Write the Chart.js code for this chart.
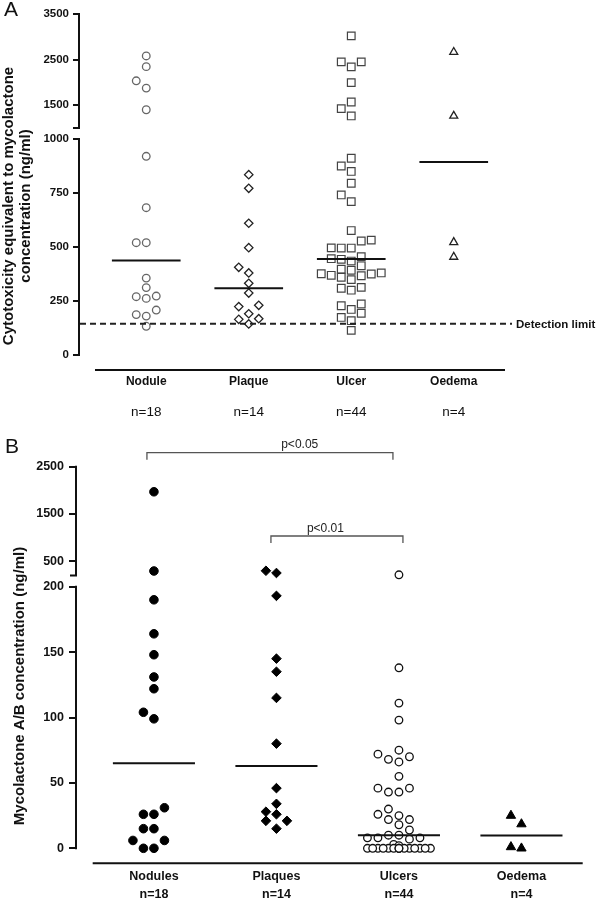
<!DOCTYPE html>
<html>
<head>
<meta charset="utf-8">
<script src="https://cdn.jsdelivr.net/npm/chart.js@4.4.1/dist/chart.umd.min.js"></script>
<style>
  body { margin: 0; background: #fff; }
  canvas { position: absolute; left: 0; }
  #chartA { top: 0; }
  #chartB { top: 425px; }
</style>
</head>
<body>
<canvas id="chartA" width="600" height="425"></canvas>
<canvas id="chartB" width="600" height="473"></canvas>
<script>
// ---- panel A: cytotoxicity equivalent to mycolactone (ng/ml)
const groupsA = ['Nodule', 'Plaque', 'Ulcer', 'Oedema'];
const countsA = ['n=18', 'n=14', 'n=44', 'n=4'];
const noduleA = [2580, 2345, 2035, 1875, 1400, 920, 682, 520, 520, 356, 312, 273, 270, 262, 208, 187, 180, 133];
const plaqueA = [835, 772, 610, 497, 406, 380, 332, 287, 230, 224, 191, 168, 165, 144];
const ulcerA = [3020, 2450, 2450, 2340, 1995, 1570, 1425, 1265, 911, 875, 850, 795, 741, 710,
  576, 532, 528, 496, 495, 495, 455, 446, 443, 435, 413, 397, 392, 380, 376, 375, 369, 367, 360, 349,
  313, 309, 300, 236, 228, 211, 193, 174, 159, 114];
const oedemaA = [2665, 1265, 522, 454];
const ticksA = [0, 250, 500, 750, 1000, 1500, 2500, 3500];
const detectionLimit = 145;

// ---- panel B: mycolactone A/B concentration (ng/ml)
const groupsB = ['Nodules', 'Plaques', 'Ulcers', 'Oedema'];
const countsB = ['n=18', 'n=14', 'n=44', 'n=4'];
const nodulesB = [1970, 295, 190, 164, 148, 131, 122, 104, 99, 31, 26, 26, 15, 15, 6, 6, 0, 0];
const plaquesB = [300, 253, 193, 145, 135, 115, 80, 46, 34, 28, 26, 21, 21, 15];
const ulcersB = [215, 138, 111, 98, 75, 72, 70, 68, 66, 55, 46, 46, 43, 43, 30, 26, 25, 22, 22, 18,
  14, 10, 10, 8, 8, 8, 7, 3, 2, 0, 0, 0, 0, 0, 0, 0, 0, 0, 0, 0, 0, 0, 0, 0];
const oedemaB = [25, 18.5, 1, 0];
const ticksB = [0, 50, 100, 150, 200, 500, 1500, 2500];
const comparisonsB = [
  { from: 0, to: 2, label: 'p<0.05' },
  { from: 1, to: 2, label: 'p<0.01' }
];

const FONT = '"Liberation Sans", Arial, Helvetica, sans-serif';
Chart.defaults.font.family = FONT;
Chart.defaults.color = '#111';

// linear scale split into pieces, each piece owning a slice of the axis height
const LinearScale = Chart.LinearScale || Chart.registry.getScale('linear');
class BrokenScale extends LinearScale {
  buildTicks() {
    return this.options.breakTicks.map((v) => ({ value: v }));
  }
  getPixelForValue(v) {
    const segs = this.options.segments;
    const s = segs.find((g) => v <= g.max) || segs[segs.length - 1];
    const f = s.from + (v - s.min) / (s.max - s.min) * (s.to - s.from);
    return this.bottom - f * (this.bottom - this.top);
  }
  getValueForPixel(p) {
    const segs = this.options.segments;
    const f = (this.bottom - p) / (this.bottom - this.top);
    const s = segs.find((g) => f <= g.to) || segs[segs.length - 1];
    return s.min + (f - s.from) / (s.to - s.from) * (s.max - s.min);
  }
}
BrokenScale.id = 'broken';
BrokenScale.defaults = {};
Chart.register(BrokenScale);

function median(values) {
  const s = [...values].sort((a, b) => a - b), m = s.length >> 1;
  return s.length % 2 ? s[m] : (s[m - 1] + s[m]) / 2;
}

function pointSet(values, group, style) {
  return Object.assign({ data: values.map((v) => ({ x: group, y: v })), swarm: true, group, order: 2, clip: false }, style);
}

function medianSet(values, group) {
  const m = median(values);
  return {
    data: [{ x: group - 0.335, y: m }, { x: group + 0.335, y: m }],
    showLine: true, pointRadius: 0, borderColor: '#111', borderWidth: 2, order: 1
  };
}

const categoryTicks = (s) => { s.ticks = [0, 1, 2, 3].map((v) => ({ value: v })); };

// spread points sideways like a dot plot, squeezing rows that get too wide
function spreadPoints(chart, step, maxOff, minDist) {
  const xs = chart.scales.x, ys = chart.scales.y;
  const ppu = xs.getPixelForValue(1) - xs.getPixelForValue(0);
  chart.data.datasets.forEach((ds) => {
    if (!ds.swarm) return;
    const placed = [];
    const order = ds.data.map((p, i) => i).sort((a, b) => ds.data[a].y - ds.data[b].y);
    for (const i of order) {
      const py = ys.getPixelForValue(ds.data[i].y);
      const clearance = (off) => placed.reduce((m, q) => Math.min(m, Math.hypot(q.off - off, q.py - py)), Infinity);
      let best = null;
      for (let k = 0; best === null && k * step <= maxOff; k++) {
        for (const off of k ? [-k * step, k * step] : [0]) {
          if (clearance(off) >= minDist) { best = off; break; }
        }
      }
      if (best === null) {
        let gap = -1;
        for (let k = 0; k * step / 2 <= maxOff; k++) {
          for (const off of k ? [-k * step / 2, k * step / 2] : [0]) {
            const g = clearance(off);
            if (g > gap + 1e-6) { gap = g; best = off; }
          }
        }
      }
      placed.push({ off: best, py });
      ds.data[i].x = ds.group + best / ppu;
    }
  });
  chart.update('none');
}

function decorations(cfg) {
  return {
    id: 'decor',
    afterDraw(chart) {
      const { ctx, chartArea: a, scales: { x } } = chart;
      const h = a.bottom - a.top;
      ctx.save();
      ctx.strokeStyle = '#111';
      ctx.fillStyle = '#111';
      ctx.lineWidth = 2;
      for (const s of cfg.segments) {
        const y0 = a.bottom - s.from * h, y1 = a.bottom - s.to * h;
        ctx.beginPath();
        ctx.moveTo(a.left - 1, y1 - 1);
        ctx.lineTo(a.left - 1, y0 + 1);
        if (s.from > 0) { ctx.moveTo(a.left, y0); ctx.lineTo(a.left - 7, y0); }
        ctx.stroke();
      }
      const by = a.bottom + cfg.baselineGap;
      ctx.beginPath();
      ctx.moveTo(x.getPixelForValue(-0.5), by);
      ctx.lineTo(x.getPixelForValue(3.5), by);
      ctx.stroke();

      ctx.font = `bold ${cfg.titleSize}px ${FONT}`;
      ctx.textAlign = 'center';
      ctx.textBaseline = 'middle';
      cfg.title.forEach((line, i) => {
        ctx.save();
        ctx.translate(cfg.titleX[i], cfg.titleY);
        ctx.rotate(-Math.PI / 2);
        ctx.fillText(line, 0, 0);
        ctx.restore();
      });

      ctx.font = `21px ${FONT}`;
      ctx.textAlign = 'left';
      ctx.textBaseline = 'top';
      ctx.fillText(cfg.letter, cfg.letterX, cfg.letterY);
      if (cfg.extra) cfg.extra(chart, ctx);
      ctx.restore();
    }
  };
}

const segmentsA = [
  { min: 0, max: 1000, from: 0, to: 0.6334 },
  { min: 1000, max: 3500, from: 0.6657, to: 1 }
];
const segmentsB = [
  { min: 0, max: 200, from: 0, to: 0.6855 },
  { min: 200, max: 2500, from: 0.7149, to: 1 }
];

const flatGrid = { display: false, drawTicks: false, tickLength: 0 };

// ---------------- panel A ----------------
const xMinA = -0.6463, xMaxA = 3.5683;
const chartA = new Chart(document.getElementById('chartA'), {
  type: 'scatter',
  data: {
    datasets: [
      ...[noduleA, plaqueA, ulcerA, oedemaA].map((v, i) => medianSet(v, i)),
      { data: [{ x: xMinA, y: detectionLimit }, { x: xMaxA, y: detectionLimit }], showLine: true, pointRadius: 0,
        borderColor: '#222', borderWidth: 2, borderDash: [6, 4], order: 1 },
      pointSet(noduleA, 0, { pointStyle: 'circle', pointRadius: 3.8, borderColor: '#666', backgroundColor: '#fff', borderWidth: 1.3 }),
      pointSet(plaqueA, 1, { pointStyle: 'rectRot', pointRadius: 4.2, borderColor: '#222', backgroundColor: '#fff', borderWidth: 1.3 }),
      pointSet(ulcerA, 2, { pointStyle: 'rect', pointRadius: 5.4, borderColor: '#444', backgroundColor: '#fff', borderWidth: 1.2 }),
      pointSet(oedemaA, 3, { pointStyle: 'triangle', pointRadius: 4.6, borderColor: '#222', backgroundColor: '#fff', borderWidth: 1.3 })
    ]
  },
  options: {
    responsive: false,
    animation: false,
    layout: { padding: { left: 0, top: 14, right: 88, bottom: 4 } },
    plugins: { legend: { display: false }, tooltip: { enabled: false } },
    scales: {
      x: {
        type: 'linear', position: 'bottom', min: xMinA, max: xMaxA, weight: 0,
        grid: flatGrid, border: { display: false },
        afterBuildTicks: categoryTicks,
        afterFit: (s) => { s.height = 36; },
        ticks: { autoSkip: false, maxRotation: 0, padding: 19, color: '#111',
          font: { size: 12, weight: 'bold' }, callback: (v) => groupsA[v] }
      },
      xn: {
        type: 'linear', axis: 'x', position: 'bottom', min: xMinA, max: xMaxA, weight: 1,
        grid: flatGrid, border: { display: false },
        afterBuildTicks: categoryTicks,
        afterFit: (s) => { s.height = 30; },
        ticks: { autoSkip: false, maxRotation: 0, padding: 13, color: '#111',
          font: { size: 13.5 }, callback: (v) => countsA[v] }
      },
      y: {
        type: 'broken', min: 0, max: 3500, segments: segmentsA, breakTicks: ticksA,
        afterFit: (s) => { s.width = 80; },
        grid: { drawOnChartArea: false, tickLength: 7, lineWidth: 2, color: '#111' },
        border: { display: false },
        ticks: { padding: 4, autoSkip: false, color: '#111', font: { size: 11.5, weight: 'bold' }, callback: (v) => String(v) }
      }
    }
  },
  plugins: [decorations({
    segments: segmentsA, baselineGap: 15,
    title: ['Cytotoxicity equivalent to mycolactone', 'concentration (ng/ml)'],
    titleX: [9, 26], titleY: 206, titleSize: 15,
    letter: 'A', letterX: 4, letterY: 0,
    extra(chart, ctx) {
      const y = chart.scales.y.getPixelForValue(detectionLimit);
      ctx.font = `bold 11.5px ${FONT}`;
      ctx.textAlign = 'left';
      ctx.textBaseline = 'middle';
      ctx.fillText('Detection limit', chart.chartArea.right + 4, y + 1);
    }
  })]
});

// ---------------- panel B ----------------
const xMinB = -0.628, xMaxB = 3.5;
const chartB = new Chart(document.getElementById('chartB'), {
  type: 'scatter',
  data: {
    datasets: [
      ...[nodulesB, plaquesB, ulcersB, oedemaB].map((v, i) => medianSet(v, i)),
      pointSet(nodulesB, 0, { pointStyle: 'circle', pointRadius: 4.3, borderColor: '#000', backgroundColor: '#000', borderWidth: 1 }),
      pointSet(plaquesB, 1, { pointStyle: 'rectRot', pointRadius: 4.8, borderColor: '#000', backgroundColor: '#000', borderWidth: 1 }),
      pointSet(ulcersB, 2, { pointStyle: 'circle', pointRadius: 3.8, borderColor: '#111', backgroundColor: '#fff', borderWidth: 1.3 }),
      pointSet(oedemaB, 3, { pointStyle: 'triangle', pointRadius: 5.4, borderColor: '#000', backgroundColor: '#000', borderWidth: 1 })
    ]
  },
  options: {
    responsive: false,
    animation: false,
    layout: { padding: { left: 0, top: 41.7, right: 17.3, bottom: 0 } },
    plugins: { legend: { display: false }, tooltip: { enabled: false } },
    scales: {
      x: {
        type: 'linear', position: 'bottom', min: xMinB, max: xMaxB,
        grid: flatGrid, border: { display: false },
        afterBuildTicks: categoryTicks,
        afterFit: (s) => { s.height = 49.7; },
        ticks: { autoSkip: false, maxRotation: 0, padding: 19.5, color: '#111',
          font: { size: 12.5, weight: 'bold', lineHeight: '18px' },
          callback: (v) => [groupsB[v], countsB[v]] }
      },
      y: {
        type: 'broken', min: 0, max: 2500, segments: segmentsB, breakTicks: ticksB,
        afterFit: (s) => { s.width = 77; },
        grid: { drawOnChartArea: false, tickLength: 8, lineWidth: 2, color: '#111' },
        border: { display: false },
        ticks: { padding: 5, autoSkip: false, color: '#111', font: { size: 12.5, weight: 'bold' }, callback: (v) => String(v) }
      }
    }
  },
  plugins: [decorations({
    segments: segmentsB, baselineGap: 15,
    title: ['Mycolactone A/B concentration (ng/ml)'],
    titleX: [20], titleY: 261, titleSize: 15,
    letter: 'B', letterX: 5, letterY: 12,
    extra(chart, ctx) {
      const x = chart.scales.x, top = chart.chartArea.top;
      const rows = [{ dy: -14, ends: [-7, -6], textAt: 1.19 }, { dy: 69.3, ends: [-5.5, 4], textAt: 1.4 }];
      ctx.strokeStyle = '#555';
      ctx.fillStyle = '#222';
      ctx.lineWidth = 1.3;
      ctx.font = `12px ${FONT}`;
      ctx.textAlign = 'center';
      ctx.textBaseline = 'alphabetic';
      comparisonsB.forEach((c, i) => {
        const r = rows[i], y = top + r.dy;
        const x0 = x.getPixelForValue(c.from) + r.ends[0], x1 = x.getPixelForValue(c.to) + r.ends[1];
        ctx.beginPath();
        ctx.moveTo(x0, y + 7); ctx.lineTo(x0, y); ctx.lineTo(x1, y); ctx.lineTo(x1, y + 7);
        ctx.stroke();
        ctx.fillText(c.label, x.getPixelForValue(r.textAt), y - 4.5);
      });
    }
  })]
});

spreadPoints(chartA, 10, 35, 9);
spreadPoints(chartB, 10.5, 36, 9);
</script>
</body>
</html>
